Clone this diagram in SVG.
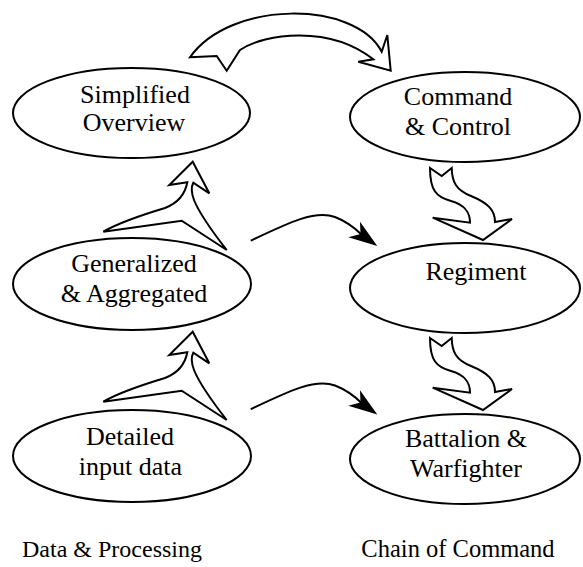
<svg xmlns="http://www.w3.org/2000/svg" width="583" height="567" viewBox="0 0 583 567">
  <style>
    .node { fill: #fff; stroke: #000; stroke-width: 2; }
    .block { fill: #fff; stroke: #000; stroke-width: 2; stroke-linejoin: miter; }
    .line { fill: none; stroke: #000; stroke-width: 2; }
    .head { fill: #000; stroke: none; }
  </style>
  <defs>
    <!-- hollow upward arrow with sweeping tail -->
    <path id="upArrow" d="M192.7,161.7 L169.3,185 L187.3,182.3 C185,195 178,203 165,208 C145,214 120,222 103.3,231.7 L181.7,220.7 L226.7,250 C215,235 200,215 194,200 C191,192 191,187 193.3,182.7 L209.3,193.3 Z"/>
    <!-- hollow S-shaped downward arrow -->
    <path id="downArrow" d="M430,168 L441.7,176 L451.7,168 C452,182 456,190 471,196 C488,203 495,210 495,222 L512,219 L483,240 L432.7,217.7 L470,222.7 C470,212 465,205 451,201 C436,197 430,190 430,168 Z"/>
    <!-- curved connector with stealth head -->
    <g id="flow">
      <path class="line" d="M250.7,240.7 C290,222 315,210 335,217 C348,222 356,229 362,235"/>
      <polygon class="head" points="377.3,246 360,221.7 360.5,234 348.3,237.3"/>
    </g>
  </defs>

  <!-- connectors -->
  <g id="connectors">
    <path class="block" d="M190,57.3 L216.7,56 L226.7,70.7 L240,50 C265,33 330,25 373.3,59.3 L358.3,61.7 L390.7,70.7 L387.3,35 L381.7,51.7 C355,0 230,0 190,57.3 Z"/>
    <use href="#upArrow" class="block"/>
    <use href="#upArrow" class="block" transform="translate(0,170)"/>
    <use href="#downArrow" class="block"/>
    <use href="#downArrow" class="block" transform="translate(0,170)"/>
    <use href="#flow"/>
    <use href="#flow" transform="translate(0,168.5)"/>
  </g>

  <g font-family="'Liberation Serif', serif" font-size="26" text-anchor="middle" fill="#000">
    <!-- data & processing column -->
    <g id="simplified">
      <ellipse class="node" cx="131.5" cy="113" rx="118.5" ry="45"/>
      <text x="135" y="103">Simplified</text>
      <text x="134" y="131">Overview</text>
    </g>
    <g id="generalized">
      <ellipse class="node" cx="132" cy="284" rx="119" ry="46"/>
      <text x="134" y="272">Generalized</text>
      <text x="134" y="302">&amp; Aggregated</text>
    </g>
    <g id="detailed">
      <ellipse class="node" cx="132" cy="456" rx="119" ry="46"/>
      <text x="130" y="445">Detailed</text>
      <text x="130.5" y="475">input data</text>
    </g>

    <!-- chain of command column -->
    <g id="command">
      <ellipse class="node" cx="465" cy="117" rx="115" ry="45"/>
      <text x="458" y="105">Command</text>
      <text x="458" y="135">&amp; Control</text>
    </g>
    <g id="regiment">
      <ellipse class="node" cx="465" cy="288" rx="115" ry="45"/>
      <text x="476" y="280">Regiment</text>
    </g>
    <g id="battalion">
      <ellipse class="node" cx="465" cy="459" rx="115" ry="45"/>
      <text x="466" y="447">Battalion &amp;</text>
      <text x="466" y="477">Warfighter</text>
    </g>

    <!-- column captions -->
    <text x="112" y="557" font-size="24">Data &amp; Processing</text>
    <text x="458" y="557" font-size="24.5">Chain of Command</text>
  </g>
</svg>
